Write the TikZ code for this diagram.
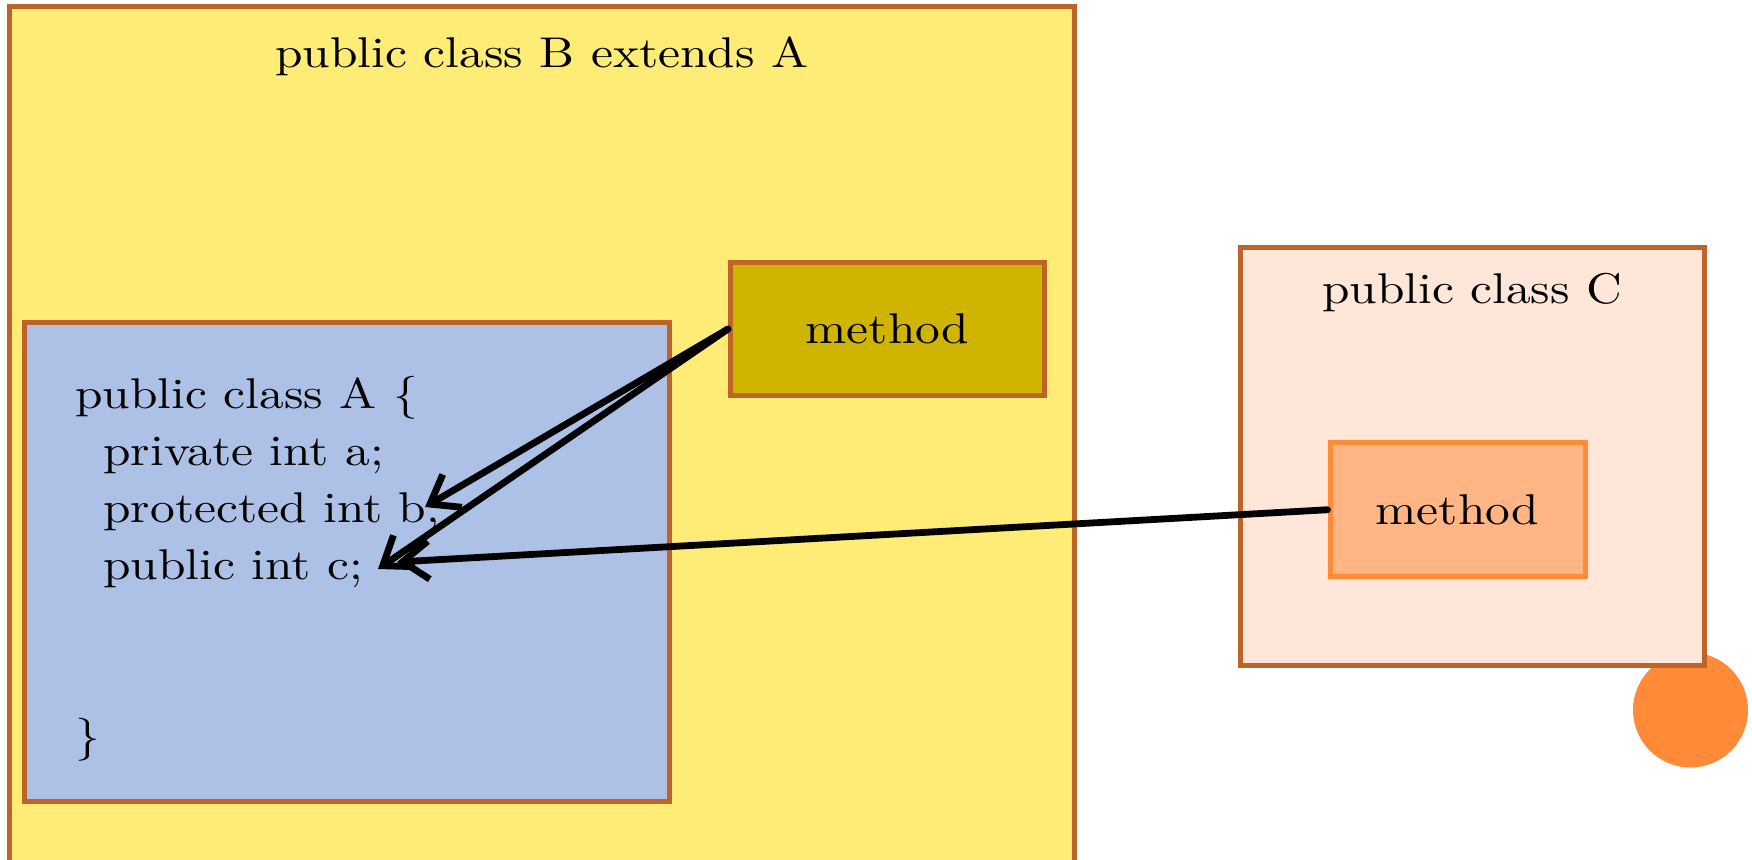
\documentclass[tikz,border=0pt]{standalone}
\usepackage{fontspec}
\setmainfont{lmroman10-regular.otf}[FakeStretch=1.15]
\usetikzlibrary{arrows.meta}
\definecolor{ybox}{HTML}{FEEC76}
\definecolor{brd}{HTML}{BE6429}
\definecolor{bbox}{HTML}{ADC1E7}
\definecolor{mbfill}{HTML}{CFB500}
\definecolor{cbox}{HTML}{FEE6D8}
\definecolor{mcfill}{HTML}{FFB584}
\definecolor{orng}{HTML}{FF8A38}
\begin{document}
\begin{tikzpicture}[x=0.5pt,y=-0.5pt,
  box/.style={draw=brd, line width=2.5pt, inner sep=0pt, rectangle},
  txt/.style={font=\fontsize{21.5}{28.5}\selectfont, inner sep=0pt},
  arr/.style={line width=3.4pt, -{Straight Barb[length=13pt,width=19pt,line width=3.4pt]}, line cap=round, line join=round}]
\useasboundingbox (0,0) rectangle (1752,860);
\fill[white] (0,0) rectangle (1752,860);
% class B
\node[box, fill=ybox, minimum width=532.5pt, minimum height=436.75pt] (B) at (542,443.25) {};
\node[txt, anchor=base] (Btitle) at (542,68) {public class B extends A};
% class A
\node[box, fill=bbox, minimum width=322.5pt, minimum height=239.5pt] (A) at (347,562) {};
\node[txt, anchor=north west, align=left] (Atext) at (75,375.75) {public class A \{\\
\hspace*{14pt}private int a;\\
\hspace*{14pt}protected int b;\\
\hspace*{14pt}public int c;\\
\mbox{}\\
\mbox{}\\
\}};
% method in B
\node[box, fill=mbfill, minimum width=157pt, minimum height=66.5pt, txt] (mB) at (887.5,329) {method};
% circle
\node[circle, fill=orng, minimum size=57.5pt, inner sep=0pt] (dot) at (1690.5,710) {};
% class C
\node[box, fill=cbox, minimum width=232.25pt, minimum height=209pt] (C) at (1472.25,456.5) {};
\node[txt, anchor=base] (Ctitle) at (1472,304) {public class C};
\node[box, draw=orng, fill=mcfill, minimum width=127.5pt, minimum height=67.25pt, txt] (mC) at (1457.5,509.75) {method};
% arrow targets
\coordinate (tb) at (425,507);
\coordinate (tc) at (378,569);
\coordinate (tc2) at (397,562);
\draw[arr] (mB.west) -- (tb);
\draw[arr] (mB.west) -- (tc);
\draw[arr] (mC.west) -- (tc2);
\end{tikzpicture}
\end{document}
